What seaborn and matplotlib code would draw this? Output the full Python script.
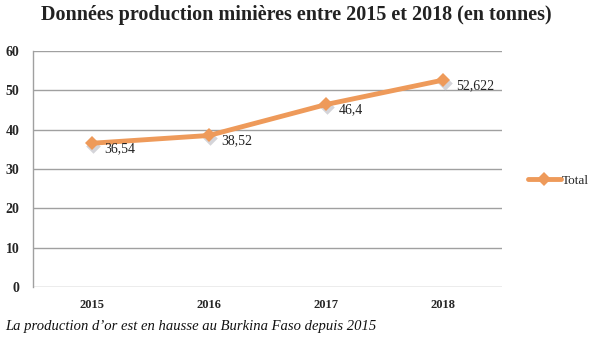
import matplotlib
matplotlib.use("Agg")
import matplotlib.pyplot as plt
import seaborn as sns
import pandas as pd
import numpy as np

years = ["2015", "2016", "2017", "2018"]
values = [36.54, 38.52, 46.4, 52.622]
labels = ["36,54", "38,52", "46,4", "52,622"]
yticks = [0, 10, 20, 30, 40, 50, 60]

sns.set_theme(style="white")
plt.rcParams['font.family'] = ['Liberation Serif', 'DejaVu Serif']

df = pd.DataFrame({"x": np.arange(len(years)), "Année": years, "Total": values})

fig = plt.figure(figsize=(5.92, 3.40), dpi=100)
ax = fig.add_axes([0.056, 0.156, 0.792, 0.694])

orange = "#EE9A5A"
# shadow markers
ax.scatter(df["x"] + 0.01, np.array(values) - 0.7, marker="D", s=55, color="#b8b8c0", alpha=0.6, zorder=2, linewidths=0)
sns.lineplot(data=df, x="x", y="Total", ax=ax, color=orange, linewidth=3.5,
             marker="D", markersize=7, markeredgewidth=0, label="Total", zorder=3)

for i, (v, t) in enumerate(zip(values, labels)):
    ax.annotate(t, (i, v), xytext=(9, -4), textcoords="offset points",
                fontsize=10, color="#222222", va="center", ha="left")

ax.set_xlim(-0.5, 3.5)
ax.set_ylim(0, 60)
ax.set_xticks(range(len(years)))
ax.set_xticklabels(years, fontsize=9, fontweight="bold")
ax.set_yticks(yticks)
ax.set_yticklabels([str(t) for t in yticks], fontsize=10, fontweight="bold")
ax.tick_params(axis="x", length=0, pad=9)
ax.tick_params(axis="y", length=0, pad=10)
ax.set_xlabel("")
ax.set_ylabel("")
ax.grid(axis="y", color="#a0a0a0", linewidth=1)
ax.grid(axis="x", visible=False)
for s in ["top", "right", "bottom"]:
    ax.spines[s].set_visible(False)
ax.spines["left"].set_color("#a0a0a0")
ax.spines["left"].set_linewidth(1)

leg = ax.legend(loc="center left", bbox_to_anchor=(1.03, 0.45), frameon=False,
                fontsize=9.5, handlelength=2.5, handletextpad=0.1)

fig.text(0.50, 0.955, "Données production minières entre 2015 et 2018 (en tonnes)",
         ha="center", va="center", fontsize=14.5, fontweight="bold", color="#222222")
fig.text(0.008, 0.04, "La production d’or est en hausse au Burkina Faso depuis 2015",
         ha="left", va="center", fontsize=10.5, style="italic", color="#111111")

fig.savefig("out.png", dpi=100)
